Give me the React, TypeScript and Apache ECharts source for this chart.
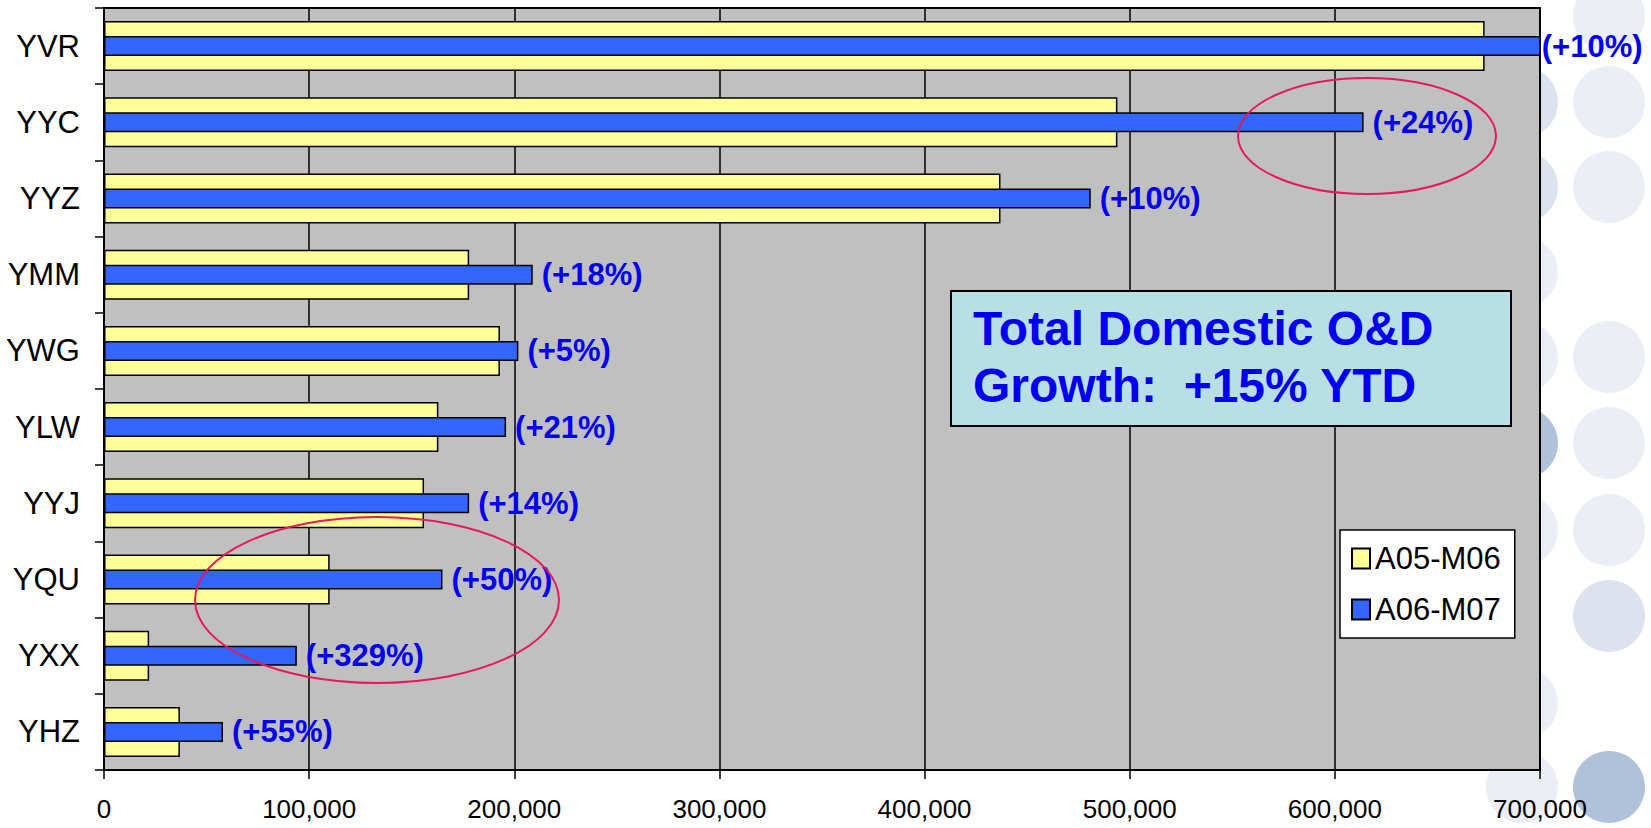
import React, { useEffect, useRef } from "react";
import * as echarts from "echarts";

const categories = ["YVR", "YYC", "YYZ", "YMM", "YWG", "YLW", "YYJ", "YQU", "YXX", "YHZ"];
const seriesNames = ["A05-M06", "A06-M07"];
const prevValues = [673000, 494000, 437000, 178000, 193000, 163000, 156000, 110000, 22000, 37000];
const currValues = [740000, 614000, 481000, 209000, 202000, 196000, 178000, 165000, 94000, 58000];
const growthLabels = ["(+10%)", "(+24%)", "(+10%)", "(+18%)", "(+5%)", "(+21%)", "(+14%)", "(+50%)", "(+329%)", "(+55%)"];
const boxLines = ["Total Domestic O&D", "Growth:  +15% YTD"];
const xMin = 0;
const xMax = 700000;
const xInterval = 100000;

const FONT = "'Liberation Sans', Arial, Helvetica, sans-serif";

const LIGHT = "#ebeef4";
const MED = "#dde3ee";
const DARK = "#b0c2da";

const bgCircles: [number, number, string][] = [
  [1609, 16, LIGHT], [1609, 102, LIGHT], [1609, 187, LIGHT], [1609, 357, LIGHT],
  [1609, 443, LIGHT], [1609, 530, LIGHT], [1609, 616, MED], [1609, 787, DARK],
  [1522, 102, MED], [1522, 187, MED], [1522, 272, LIGHT], [1522, 357, LIGHT],
  [1522, 443, DARK], [1522, 530, LIGHT], [1522, 703, LIGHT], [1522, 787, LIGHT],
];

export default function App() {
  const ref = useRef<HTMLDivElement>(null);
  useEffect(() => {
    document.body.style.margin = "0";
    if (!ref.current) return;
    const chart = echarts.init(ref.current, undefined, { renderer: "svg" });
    const graphics: any[] = bgCircles.map(([cx, cy, c]) => ({
      type: "circle",
      z: -10,
      silent: true,
      shape: { cx, cy, r: 36 },
      style: { fill: c },
    }));
    graphics.push({
      type: "rect",
      z: 100,
      shape: { x: 951, y: 291, width: 560, height: 135 },
      style: { fill: "#b8dfe3", stroke: "#000", lineWidth: 2 },
    });
    graphics.push({
      type: "text",
      z: 101,
      x: 973,
      y: 300,
      style: {
        text: boxLines.join("\n"),
        fontSize: 48,
        fontWeight: "bold",
        fontFamily: FONT,
        fill: "#0000ee",
        lineHeight: 57,
      },
    });
    graphics.push({
      type: "ellipse",
      z: 100,
      shape: { cx: 1367, cy: 136, rx: 129, ry: 58 },
      style: { fill: "none", stroke: "#e8195a", lineWidth: 2 },
    });
    graphics.push({
      type: "ellipse",
      z: 100,
      shape: { cx: 377, cy: 600, rx: 182, ry: 83 },
      style: { fill: "none", stroke: "#e8195a", lineWidth: 2 },
    });

    chart.setOption({
      animation: false,
      backgroundColor: "#ffffff",
      grid: {
        left: 104,
        right: 111,
        top: 8,
        bottom: 58,
        show: true,
        containLabel: false,
        outerBoundsMode: "none",
        backgroundColor: "#c0c0c0",
        borderColor: "#000",
        borderWidth: 2,
        z: 0,
      },
      legend: {
        orient: "vertical",
        left: 1340,
        top: 530,
        backgroundColor: "#fff",
        borderColor: "#000",
        borderWidth: 1.5,
        borderRadius: 0,
        padding: [13, 14, 13, 11],
        itemWidth: 18,
        itemHeight: 20,
        itemGap: 20,
        icon: "rect",
        textStyle: { fontSize: 31, color: "#000", fontFamily: FONT },
        data: seriesNames,
        z: 50,
      },
      xAxis: {
        type: "value",
        min: xMin,
        max: xMax,
        interval: xInterval,
        axisLine: { show: true, lineStyle: { color: "#000", width: 2 } },
        axisTick: { show: true, length: 9, lineStyle: { color: "#000", width: 1.5 } },
        axisLabel: {
          fontSize: 26,
          color: "#000",
          fontFamily: FONT,
          margin: 26,
          formatter: (v: number) => v.toLocaleString("en-US"),
        },
        splitLine: { show: true, lineStyle: { color: "#000", width: 1.5 } },
      },
      yAxis: [
        {
          type: "category",
          data: categories,
          inverse: true,
          axisLine: { show: true, lineStyle: { color: "#000", width: 2 } },
          axisTick: { show: true, length: 9, lineStyle: { color: "#000", width: 1.5 } },
          axisLabel: { fontSize: 31, color: "#000", fontFamily: FONT, margin: 24 },
          splitLine: { show: false },
        },
        {
          type: "category",
          data: categories,
          inverse: true,
          show: false,
        },
      ],
      graphic: graphics,
      series: [
        {
          name: seriesNames[0],
          type: "bar",
          yAxisIndex: 0,
          data: prevValues,
          barWidth: 50,
          z: 2,
          itemStyle: { color: "#ffff99", borderColor: "#000", borderWidth: 1.5 },
        },
        {
          name: seriesNames[1],
          type: "bar",
          yAxisIndex: 1,
          data: currValues.map((v, i) => (i === 0 ? { value: v, label: { distance: 1 } } : v)),
          barWidth: 20,
          z: 3,
          clip: true,
          itemStyle: { color: "#3366ff", borderColor: "#000", borderWidth: 1.5 },
          label: {
            show: true,
            position: "right",
            distance: 9,
            formatter: (p: any) => growthLabels[p.dataIndex],
            fontSize: 31,
            fontWeight: "bold",
            fontFamily: FONT,
            color: "#0000ee",
          },
        },
      ],
    });
    return () => chart.dispose();
  }, []);
  return <div ref={ref} style={{ width: 1651, height: 828 }} />;
}
